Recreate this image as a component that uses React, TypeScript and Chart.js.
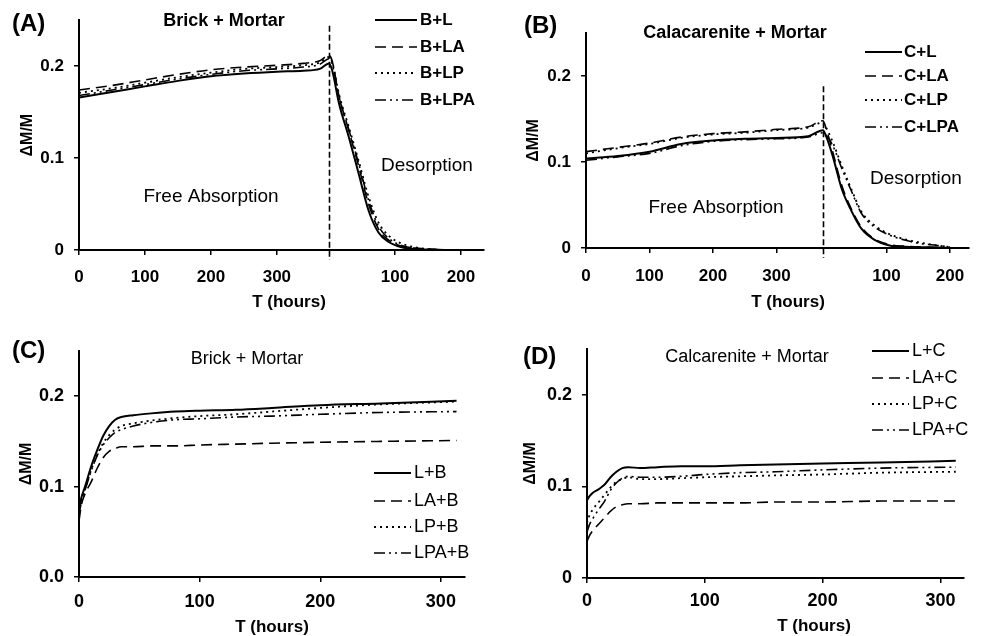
import React, { useEffect, useRef } from "react";
import { Chart, registerables } from "chart.js";
Chart.register(...registerables);

const FONT = "'Liberation Sans', Arial, Helvetica, sans-serif";

// ---------------- Panel A : Brick + Mortar (absorption / desorption) ----------------
const A_LABELS = ["B+L", "B+LA", "B+LP", "B+LPA"];
const A_DES_START = 379; // hours on the axis where desorption starts
const A_ABS_T = [0, 50, 100, 150, 200, 250, 300, 340, 365, 379];
const A_ABS_BL = [0.166, 0.172, 0.178, 0.184, 0.189, 0.192, 0.194, 0.195, 0.197, 0.203];
const A_ABS_BLA = [0.174, 0.179, 0.185, 0.191, 0.196, 0.199, 0.201, 0.203, 0.206, 0.212];
const A_ABS_BLP = [0.171, 0.176, 0.182, 0.188, 0.193, 0.197, 0.199, 0.201, 0.204, 0.21];
const A_ABS_BLPA = [0.168, 0.174, 0.18, 0.186, 0.191, 0.195, 0.197, 0.199, 0.202, 0.208];
const A_DES_T = [5, 15, 30, 45, 60, 75, 90, 110, 130, 150, 175];
const A_DES_BL = [0.195, 0.16, 0.123, 0.083, 0.043, 0.019, 0.009, 0.003, 0.001, 0.0005, 0];
const A_DES_BLA = [0.205, 0.168, 0.13, 0.091, 0.05, 0.023, 0.011, 0.004, 0.002, 0.001, 0];
const A_DES_BLP = [0.204, 0.17, 0.134, 0.097, 0.058, 0.03, 0.016, 0.007, 0.003, 0.001, 0];
const A_DES_BLPA = [0.202, 0.167, 0.131, 0.094, 0.054, 0.026, 0.013, 0.005, 0.002, 0.001, 0];

// ---------------- Panel B : Calcarenite + Mortar (absorption / desorption) ----------------
const B_LABELS = ["C+L", "C+LA", "C+LP", "C+LPA"];
const B_DES_START = 373;
const B_ABS_T = [0, 50, 100, 150, 200, 250, 300, 350, 373];
const B_ABS_CL = [0.104, 0.107, 0.112, 0.121, 0.125, 0.127, 0.128, 0.13, 0.137];
const B_ABS_CLA = [0.112, 0.117, 0.122, 0.129, 0.133, 0.135, 0.138, 0.141, 0.148];
const B_ABS_CLP = [0.11, 0.116, 0.121, 0.128, 0.132, 0.134, 0.137, 0.14, 0.146];
const B_ABS_CLPA = [0.102, 0.106, 0.11, 0.119, 0.124, 0.126, 0.127, 0.129, 0.134];
const B_DES_T = [5, 15, 30, 45, 60, 80, 105, 130, 155, 180, 200];
const B_DES_CL = [0.13, 0.108, 0.068, 0.043, 0.023, 0.01, 0.003, 0.0015, 0.001, 0.0005, 0];
const B_DES_CLA = [0.139, 0.113, 0.072, 0.045, 0.025, 0.011, 0.004, 0.002, 0.001, 0.0005, 0];
const B_DES_CLP = [0.14, 0.124, 0.095, 0.068, 0.043, 0.027, 0.016, 0.01, 0.006, 0.003, 0.001];
const B_DES_CLPA = [0.131, 0.12, 0.092, 0.066, 0.041, 0.025, 0.015, 0.009, 0.005, 0.003, 0.001];

// ---------------- Panel C : Brick + Mortar ----------------
const C_LABELS = ["L+B", "LA+B", "LP+B", "LPA+B"];
const C_T = [0, 2, 5, 10, 15, 20, 25, 30, 35, 45, 60, 80, 100, 130, 160, 200, 250, 313];
const C_LB = [0.075, 0.088, 0.1, 0.122, 0.14, 0.156, 0.167, 0.174, 0.177, 0.179, 0.181, 0.183, 0.184, 0.185, 0.187, 0.19, 0.192, 0.195];
const C_LAB = [0.062, 0.08, 0.092, 0.105, 0.12, 0.132, 0.139, 0.142, 0.144, 0.144, 0.145, 0.145, 0.146, 0.147, 0.148, 0.149, 0.15, 0.151];
const C_LPB = [0.07, 0.085, 0.097, 0.118, 0.135, 0.148, 0.157, 0.163, 0.167, 0.17, 0.173, 0.176, 0.178, 0.18, 0.183, 0.187, 0.191, 0.194];
const C_LPAB = [0.068, 0.083, 0.096, 0.117, 0.134, 0.146, 0.154, 0.16, 0.163, 0.167, 0.171, 0.174, 0.175, 0.177, 0.178, 0.18, 0.182, 0.183];

// ---------------- Panel D : Calcarenite + Mortar ----------------
const D_LABELS = ["L+C", "LA+C", "LP+C", "LPA+C"];
const D_T = [0, 2, 5, 10, 15, 20, 25, 30, 35, 45, 60, 80, 100, 130, 160, 200, 250, 313];
const D_LC = [0.085, 0.089, 0.093, 0.097, 0.102, 0.11, 0.116, 0.12, 0.121, 0.12, 0.121, 0.122, 0.122, 0.123, 0.124, 0.125, 0.126, 0.128];
const D_LAC = [0.04, 0.046, 0.052, 0.059, 0.066, 0.073, 0.078, 0.08, 0.081, 0.081, 0.082, 0.082, 0.082, 0.082, 0.083, 0.083, 0.084, 0.084];
const D_LPC = [0.06, 0.068, 0.075, 0.083, 0.091, 0.099, 0.105, 0.108, 0.11, 0.108, 0.108, 0.109, 0.11, 0.111, 0.112, 0.113, 0.115, 0.116];
const D_LPAC = [0.05, 0.058, 0.065, 0.075, 0.084, 0.096, 0.104, 0.109, 0.111, 0.11, 0.11, 0.111, 0.113, 0.115, 0.116, 0.118, 0.12, 0.121];

// ---------------- Tick labels ----------------
const ABS_TICKS = [0, 100, 200, 300];
const DES_TICKS = [100, 200];
const T_TICKS = [0, 100, 200, 300];
const Y_TICKS = [0, 0.1, 0.2];

// ---------------- Styles ----------------
const LINE_STYLES = [
  { borderDash: [] as number[], borderWidth: 2 },
  { borderDash: [11, 6], borderWidth: 1.6 },
  { borderDash: [2, 4], borderWidth: 1.8 },
  { borderDash: [11, 4, 2, 4, 2, 4], borderWidth: 1.6 },
];

const pts = (t: number[], v: number[], off = 0) => t.map((x, i) => ({ x: x + off, y: v[i] }));

type Txt = { text: string; x: number; y: number; size: number; bold?: boolean; align?: CanvasTextAlign };

const decor = {
  id: "decor",
  afterDatasetsDraw(chart: any, _a: any, o: any) {
    const ctx = chart.ctx as CanvasRenderingContext2D;
    const xs = chart.scales.x;
    const ys = chart.scales.y;
    ctx.save();
    if (o.vline) {
      const px = Math.round(xs.getPixelForValue(o.vline.value)) + 0.5;
      ctx.strokeStyle = "#000";
      ctx.lineWidth = 1.6;
      ctx.setLineDash([6, 3]);
      ctx.beginPath();
      ctx.moveTo(px, ys.getPixelForValue(o.vline.top));
      ctx.lineTo(px, chart.chartArea.bottom + 10);
      ctx.stroke();
    }
    const lg = o.legend;
    chart.data.datasets.forEach((ds: any, i: number) => {
      const y = lg.ys[i];
      ctx.setLineDash(ds.borderDash || []);
      ctx.lineWidth = ds.borderWidth;
      ctx.strokeStyle = "#000";
      ctx.beginPath();
      ctx.moveTo(lg.x1, y);
      ctx.lineTo(lg.x2, y);
      ctx.stroke();
      ctx.setLineDash([]);
      ctx.fillStyle = "#000";
      ctx.font = `${lg.bold ? "bold " : ""}${lg.size}px ${FONT}`;
      ctx.textAlign = "left";
      ctx.textBaseline = "middle";
      ctx.fillText(ds.label, lg.tx, y);
    });
    for (const t of o.texts as Txt[]) {
      ctx.fillStyle = "#000";
      ctx.font = `${t.bold ? "bold " : ""}${t.size}px ${FONT}`;
      ctx.textAlign = t.align || "center";
      ctx.textBaseline = "middle";
      ctx.fillText(t.text, t.x, t.y);
    }
    ctx.restore();
  },
};

interface Spec {
  labels: string[];
  series: { x: number; y: number }[][];
  xMax: number;
  xTicks: number[];
  xFmt: (v: number) => string;
  yFmt: (v: number) => string;
  pad: { top: number; right: number };
  yWidth: number;
  xHeight: number;
  tickSize: number;
  xTickPad: number;
  yTitlePad: number;
  texts: Txt[];
  legend: { x1: number; x2: number; tx: number; ys: number[]; size: number; bold: boolean };
  vline?: { value: number; top: number };
}

function buildConfig(s: Spec): any {
  const tickFont = { family: FONT, size: s.tickSize, weight: "bold" as const };
  const grid = { drawOnChartArea: false, drawTicks: true, tickLength: 5, color: "#000", lineWidth: 1.5 };
  const border = { display: true, color: "#000", width: 2 };
  return {
    type: "line",
    data: {
      datasets: s.series.map((d, i) => ({
        label: s.labels[i],
        data: d,
        borderColor: "#000",
        backgroundColor: "#000",
        borderDash: LINE_STYLES[i].borderDash,
        borderWidth: LINE_STYLES[i].borderWidth,
        pointRadius: 0,
        cubicInterpolationMode: "monotone",
        fill: false,
      })),
    },
    options: {
      responsive: false,
      animation: false,
      devicePixelRatio: 1,
      layout: { padding: { left: 0, top: s.pad.top, right: s.pad.right, bottom: 0 } },
      plugins: {
        legend: { display: false },
        tooltip: { enabled: false },
        title: { display: false },
        decor: { texts: s.texts, legend: s.legend, vline: s.vline },
      },
      scales: {
        x: {
          type: "linear",
          min: 0,
          max: s.xMax,
          afterBuildTicks: (sc: any) => {
            sc.ticks = s.xTicks.map((v) => ({ value: v }));
          },
          afterFit: (sc: any) => {
            sc.height = s.xHeight;
          },
          ticks: {
            font: tickFont,
            color: "#000",
            padding: s.xTickPad,
            maxRotation: 0,
            autoSkip: false,
            callback: (v: any) => s.xFmt(Number(v)),
          },
          grid,
          border,
        },
        y: {
          type: "linear",
          min: 0,
          max: 0.25,
          afterBuildTicks: (sc: any) => {
            sc.ticks = Y_TICKS.map((v) => ({ value: v }));
          },
          afterFit: (sc: any) => {
            sc.width = s.yWidth;
          },
          ticks: {
            font: tickFont,
            color: "#000",
            padding: 10,
            callback: (v: any) => s.yFmt(Number(v)),
          },
          title: {
            display: true,
            text: "ΔM/M",
            color: "#000",
            font: { family: FONT, size: 16, weight: "bold" },
            padding: { top: s.yTitlePad, bottom: 0 },
          },
          grid,
          border,
        },
      },
    },
    plugins: [decor],
  };
}

const yZero = (v: number) => (v === 0 ? "0" : v.toFixed(1));
const desFmt = (start: number) => (v: number) => (v > start ? String(Math.round(v - start)) : String(v));

const SPEC_A: Spec = {
  labels: A_LABELS,
  series: [
    pts(A_ABS_T, A_ABS_BL).concat(pts(A_DES_T, A_DES_BL, A_DES_START)),
    pts(A_ABS_T, A_ABS_BLA).concat(pts(A_DES_T, A_DES_BLA, A_DES_START)),
    pts(A_ABS_T, A_ABS_BLP).concat(pts(A_DES_T, A_DES_BLP, A_DES_START)),
    pts(A_ABS_T, A_ABS_BLPA).concat(pts(A_DES_T, A_DES_BLPA, A_DES_START)),
  ],
  xMax: 614,
  xTicks: ABS_TICKS.concat(DES_TICKS.map((v) => v + A_DES_START)),
  xFmt: desFmt(A_DES_START),
  yFmt: yZero,
  pad: { top: 20, right: 10 },
  yWidth: 79,
  xHeight: 68,
  tickSize: 17,
  xTickPad: 12,
  yTitlePad: 18,
  texts: [
    { text: "(A)", x: 12, y: 24, size: 24, bold: true, align: "left" },
    { text: "Brick + Mortar", x: 224, y: 21, size: 18, bold: true },
    { text: "Free Absorption", x: 211, y: 197, size: 19 },
    { text: "Desorption", x: 427, y: 166, size: 19 },
    { text: "T (hours)", x: 289, y: 302, size: 17, bold: true },
  ],
  legend: { x1: 375, x2: 417, tx: 420, ys: [20, 47, 73, 100], size: 17, bold: true },
  vline: { value: A_DES_START, top: 0.244 },
};

const SPEC_B: Spec = {
  labels: B_LABELS,
  series: [
    pts(B_ABS_T, B_ABS_CL).concat(pts(B_DES_T, B_DES_CL, B_DES_START)),
    pts(B_ABS_T, B_ABS_CLA).concat(pts(B_DES_T, B_DES_CLA, B_DES_START)),
    pts(B_ABS_T, B_ABS_CLP).concat(pts(B_DES_T, B_DES_CLP, B_DES_START)),
    pts(B_ABS_T, B_ABS_CLPA).concat(pts(B_DES_T, B_DES_CLPA, B_DES_START)),
  ],
  xMax: 603,
  xTicks: ABS_TICKS.concat(DES_TICKS.map((v) => v + B_DES_START)),
  xFmt: desFmt(B_DES_START),
  yFmt: yZero,
  pad: { top: 33, right: 19 },
  yWidth: 92,
  xHeight: 70,
  tickSize: 17,
  xTickPad: 13,
  yTitlePad: 30,
  texts: [
    { text: "(B)", x: 30, y: 26, size: 24, bold: true, align: "left" },
    { text: "Calacarenite + Mortar", x: 241, y: 33, size: 18, bold: true },
    { text: "Free Absorption", x: 222, y: 208, size: 19 },
    { text: "Desorption", x: 422, y: 179, size: 19 },
    { text: "T (hours)", x: 294, y: 302, size: 17, bold: true },
  ],
  legend: { x1: 371, x2: 408, tx: 410, ys: [52, 76, 100, 127], size: 17, bold: true },
  vline: { value: B_DES_START, top: 0.188 },
};

const SPEC_C: Spec = {
  labels: C_LABELS,
  series: [pts(C_T, C_LB), pts(C_T, C_LAB), pts(C_T, C_LPB), pts(C_T, C_LPAB)],
  xMax: 320,
  xTicks: T_TICKS,
  xFmt: (v) => String(v),
  yFmt: (v) => v.toFixed(1),
  pad: { top: 33, right: 29 },
  yWidth: 79,
  xHeight: 59,
  tickSize: 18,
  xTickPad: 9,
  yTitlePad: 17,
  texts: [
    { text: "(C)", x: 12, y: 33, size: 24, bold: true, align: "left" },
    { text: "Brick + Mortar", x: 247, y: 41, size: 18 },
    { text: "T (hours)", x: 272, y: 309, size: 17, bold: true },
  ],
  legend: { x1: 374, x2: 411, tx: 414, ys: [155, 183, 209, 235], size: 18, bold: false },
};

const SPEC_D: Spec = {
  labels: D_LABELS,
  series: [pts(D_T, D_LC), pts(D_T, D_LAC), pts(D_T, D_LPC), pts(D_T, D_LPAC)],
  xMax: 320,
  xTicks: T_TICKS,
  xFmt: (v) => String(v),
  yFmt: yZero,
  pad: { top: 31, right: 24 },
  yWidth: 93,
  xHeight: 58,
  tickSize: 18,
  xTickPad: 7,
  yTitlePad: 27,
  texts: [
    { text: "(D)", x: 29, y: 39, size: 24, bold: true, align: "left" },
    { text: "Calcarenite + Mortar", x: 253, y: 39, size: 18 },
    { text: "T (hours)", x: 320, y: 308, size: 17, bold: true },
  ],
  legend: { x1: 378, x2: 415, tx: 418, ys: [33, 60, 86, 112], size: 18, bold: false },
};

function Panel({ spec, left, top }: { spec: Spec; left: number; top: number }) {
  const ref = useRef<HTMLCanvasElement>(null);
  useEffect(() => {
    const chart = new Chart(ref.current as HTMLCanvasElement, buildConfig(spec));
    return () => chart.destroy();
  }, [spec]);
  return (
    <canvas
      ref={ref}
      width={494}
      height={318}
      style={{ position: "absolute", left, top, width: 494, height: 318 }}
    />
  );
}

export default function App() {
  return (
    <div style={{ position: "absolute", left: 0, top: 0, width: 988, height: 636, background: "#fff" }}>
      <Panel spec={SPEC_A} left={0} top={0} />
      <Panel spec={SPEC_B} left={494} top={0} />
      <Panel spec={SPEC_C} left={0} top={318} />
      <Panel spec={SPEC_D} left={494} top={318} />
    </div>
  );
}
